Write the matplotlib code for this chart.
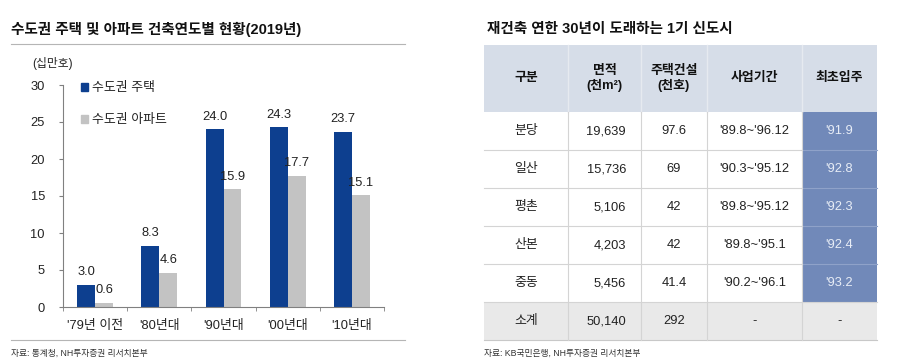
import matplotlib
matplotlib.use("Agg")
import matplotlib.pyplot as plt
from matplotlib.patches import Patch, Rectangle
import numpy as np

plt.rcParams['font.family'] = ['Liberation Sans', 'Noto Sans CJK KR', 'DejaVu Sans']

# ---------------- data ----------------
left_title = "수도권 주택 및 아파트 건축연도별 현황(2019년)"
unit_label = "(십만호)"
categories = ["'79년 이전", "'80년대", "'90년대", "'00년대", "'10년대"]
housing = [3.0, 8.3, 24.0, 24.3, 23.7]
apartments = [0.6, 4.6, 15.9, 17.7, 15.1]
series_names = ["수도권 주택", "수도권 아파트"]
y_ticks = [0, 5, 10, 15, 20, 25, 30]
left_source = "자료: 통계청, NH투자증권 리서치본부"

right_title = "재건축 연한 30년이 도래하는 1기 신도시"
table_header = ["구분", "면적\n(천m²)", "주택건설\n(천호)", "사업기간", "최초입주"]
city = ["분당", "일산", "평촌", "산본", "중동", "소계"]
area = ["19,639", "15,736", "5,106", "4,203", "5,456", "50,140"]
homes = ["97.6", "69", "42", "42", "41.4", "292"]
period = ["'89.8~'96.12", "'90.3~'95.12", "'89.8~'95.12", "'89.8~'95.1", "'90.2~'96.1", "-"]
first_move = ["'91.9", "'92.8", "'92.3", "'92.4", "'93.2", "-"]
right_source = "자료: KB국민은행, NH투자증권 리서치본부"

# ---------------- style ----------------
W, H = 900, 364
BLUE = "#0d3f8f"
GRAY = "#c3c3c3"
TXT = "#222222"
fig = plt.figure(figsize=(W / 100, H / 100), dpi=100)

def fx(px):
    return px / W

def fy(py):
    return 1 - py / H

# background overlay axes in pixel coordinates
bg = fig.add_axes([0, 0, 1, 1])
bg.set_xlim(0, W)
bg.set_ylim(H, 0)
bg.axis("off")

# ---------- left chart ----------
bg.text(11, 29, left_title, fontsize=10.5, fontweight="bold", va="center", ha="left", color="#111111")
bg.plot([11, 405], [44, 44], color="#b5b5b5", lw=0.8)
bg.plot([11, 405], [340, 340], color="#b5b5b5", lw=0.8)
bg.text(32, 64, unit_label, fontsize=8.5, va="center", ha="left", color=TXT)
bg.text(11, 353, left_source, fontsize=6.3, va="center", ha="left", color="#333333")

ax_l, ax_r, ax_b, ax_t = 63, 384, 307, 85
ax = fig.add_axes([fx(ax_l), fy(ax_b), fx(ax_r - ax_l), (ax_b - ax_t) / H])
x = np.arange(len(categories))
bw = 0.28
b1 = ax.bar(x - bw / 2, housing, bw, color=BLUE, label=series_names[0])
b2 = ax.bar(x + bw / 2, apartments, bw, color=GRAY, label=series_names[1])
for rect, v in zip(b1, housing):
    ax.text(rect.get_x() + rect.get_width() / 2, v + 0.9, f"{v:.1f}", ha="center", va="bottom",
            fontsize=9.3, color=TXT)
for rect, v in zip(b2, apartments):
    ax.text(rect.get_x() + rect.get_width() / 2, v + 0.9, f"{v:.1f}", ha="center", va="bottom",
            fontsize=9.3, color=TXT)
ax.set_xlim(-0.5, len(categories) - 0.5)
ax.set_ylim(0, 30)
ax.set_yticks(y_ticks)
ax.set_xticks(x)
ax.set_xticklabels(categories)
ax.set_xticks(np.arange(len(categories) + 1) - 0.5, minor=True)
ax.tick_params(axis="x", which="major", length=0, pad=9, labelsize=9.3, labelcolor=TXT)
ax.tick_params(axis="x", which="minor", length=3, color="#808080", direction="out")
ax.tick_params(axis="y", length=3, color="#808080", pad=10, labelsize=9.3, labelcolor=TXT)
for s in ["top", "right"]:
    ax.spines[s].set_visible(False)
for s in ["left", "bottom"]:
    ax.spines[s].set_color("#808080")
    ax.spines[s].set_linewidth(0.8)
ax.patch.set_alpha(0)
leg = ax.legend(handles=[Patch(color=BLUE), Patch(color=GRAY)], labels=series_names,
                loc="upper left", bbox_to_anchor=(0.02, 1.065), frameon=False,
                handlelength=0.55, handleheight=0.55, handletextpad=0.3, labelspacing=1.55,
                fontsize=9.3)
for t in leg.get_texts():
    t.set_color(TXT)

# ---------- right table ----------
bg.text(487, 29, right_title, fontsize=10.5, fontweight="bold", va="center", ha="left", color="#111111")
bg.text(484, 353, right_source, fontsize=6.3, va="center", ha="left", color="#333333")

col_edges = [484, 568, 641, 707, 802, 877]
header_top, header_bot = 45, 112
row_h = 38
HEAD_BG = "#d6dde8"
HILITE = "#7189b9"
TOTAL_BG = "#e9e9e9"
LINE = "#d4d4d4"

n_rows = len(city)
# header background
bg.add_patch(Rectangle((col_edges[0], header_top), col_edges[-1] - col_edges[0],
                       header_bot - header_top, facecolor=HEAD_BG, edgecolor="none"))
for j, h in enumerate(table_header):
    cx = (col_edges[j] + col_edges[j + 1]) / 2
    bg.text(cx, (header_top + header_bot) / 2, h, ha="center", va="center", fontsize=9.3,
            fontweight="bold", color="#111111", linespacing=1.15)

columns = [city, area, homes, period, first_move]
for i in range(n_rows):
    top = header_bot + i * row_h
    is_total = i == n_rows - 1
    if is_total:
        bg.add_patch(Rectangle((col_edges[0], top), col_edges[-1] - col_edges[0], row_h,
                               facecolor=TOTAL_BG, edgecolor="none"))
    else:
        bg.add_patch(Rectangle((col_edges[4], top), col_edges[5] - col_edges[4], row_h,
                               facecolor=HILITE, edgecolor="none"))
    cy = top + row_h / 2
    for j, col in enumerate(columns):
        val = col[i]
        color = "#e8edf6" if (j == 4 and not is_total) else TXT
        if j == 1:
            bg.text(col_edges[2] - 15, cy, val, ha="right", va="center", fontsize=9.3, color=color)
        else:
            cx = (col_edges[j] + col_edges[j + 1]) / 2
            bg.text(cx, cy, val, ha="center", va="center", fontsize=9.3, color=color)
    # row separators
    if i > 0:
        bg.plot([col_edges[0], col_edges[4]], [top, top], color=LINE, lw=0.8)
        bg.plot([col_edges[4], col_edges[5]], [top, top], color="#8fa2c9" if not is_total else LINE, lw=0.8)

table_bot = header_bot + n_rows * row_h
bg.plot([col_edges[0], col_edges[-1]], [table_bot, table_bot], color="#c8c8c8", lw=0.8)
# vertical separators
for e in col_edges[1:-1]:
    bg.plot([e, e], [header_top, header_bot], color="#e6eaf0", lw=1.0)
    bg.plot([e, e], [header_bot, table_bot], color=LINE, lw=0.8)

fig.savefig("out.png", dpi=100)
